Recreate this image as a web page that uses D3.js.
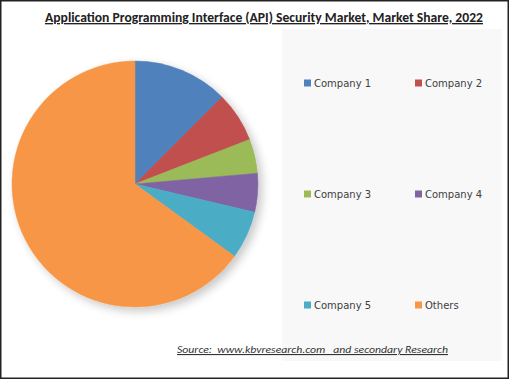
<!DOCTYPE html>
<html><head><meta charset="utf-8">
<script src="https://cdn.jsdelivr.net/npm/d3@7"></script>
<style>html,body{margin:0;padding:0;background:#fff;overflow:hidden}</style>
</head><body>
<svg id="c" width="509" height="379"></svg>
<script>
const categories = ["Company 1","Company 2","Company 3","Company 4","Company 5","Others"];
const shares = [12.5, 6.6, 4.5, 5.1, 6.3, 65.0];
const colors = ["#4F81BD","#C0504D","#9BBB59","#8064A2","#4BACC6","#F79646"];
const titleText = "Application Programming Interface (API) Security Market, Market Share, 2022";
const sourceText = "Source:  www.kbvresearch.com   and secondary Research";

const svg = d3.select("#c");
const defs = svg.append("defs");
const f = defs.append("filter").attr("id","sh").attr("x","-20%").attr("y","-20%").attr("width","150%").attr("height","150%");
f.append("feGaussianBlur").attr("in","SourceAlpha").attr("stdDeviation",5).attr("result","b");
f.append("feOffset").attr("in","b").attr("dx",4).attr("dy",4).attr("result","o");
f.append("feComponentTransfer").attr("in","o").attr("result","o2").append("feFuncA").attr("type","linear").attr("slope",0.22);
const m = f.append("feMerge"); m.append("feMergeNode").attr("in","o2"); m.append("feMergeNode").attr("in","SourceGraphic");

svg.append("rect").attr("x",0).attr("y",0).attr("width",509).attr("height",379).attr("fill","#fff");
// legend panel
svg.append("rect").attr("x",282).attr("y",29).attr("width",220).attr("height",332).attr("fill","#f8f8f8");

// title
svg.append("text").attr("x",264).attr("y",22).attr("text-anchor","middle")
  .attr("font-family","Carlito, 'Open Sans', Lato, sans-serif").attr("font-weight","bold").attr("font-size",13.5)
  .attr("textLength",438).attr("lengthAdjust","spacingAndGlyphs")
  .attr("text-decoration","underline").attr("fill","#222").text(titleText);

// pie
const cx = 135, cy = 184, r = 123;
const pie = d3.pie().sort(null).value(d=>d)(shares);
const arc = d3.arc().innerRadius(0).outerRadius(r);
const g = svg.append("g").attr("transform",`translate(${cx},${cy})`).attr("filter","url(#sh)");
g.selectAll("path").data(pie).join("path").attr("d",arc).attr("fill",(d,i)=>colors[i])
  .attr("stroke",(d,i)=>colors[i]).attr("stroke-width",0.5);

// legend
const colX = [304, 415];
const rowY = [83, 194, 305];
const lg = svg.append("g");
categories.forEach((c,i)=>{
  const x = colX[i%2], y = rowY[Math.floor(i/2)];
  lg.append("rect").attr("x",x).attr("y",y-3.5).attr("width",7).attr("height",7).attr("fill",colors[i]);
  lg.append("text").attr("x",x+10).attr("y",y+4).attr("font-family","'DejaVu Sans', Verdana, sans-serif")
    .attr("font-size",10).attr("fill","#404040").text(c);
});

// source
svg.append("text").attr("x",177).attr("y",353)
  .attr("font-family","Carlito, 'Open Sans', Lato, sans-serif").attr("font-style","italic").attr("font-size",11)
  .attr("textLength",271).attr("lengthAdjust","spacingAndGlyphs")
  .attr("text-decoration","underline").attr("fill","#333").style("white-space","pre").text(sourceText);

// outer border
svg.append("rect").attr("x",0.75).attr("y",0.75).attr("width",507.5).attr("height",377.5)
  .attr("fill","none").attr("stroke","#222").attr("stroke-width",1.5);
</script>
</body></html>
